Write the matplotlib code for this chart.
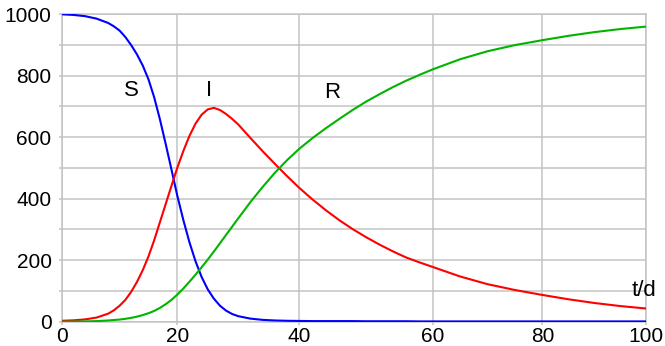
import numpy as np
from matplotlib import pyplot as plt

t = [0, 2, 4, 6, 8, 9, 10, 11, 12, 13, 14, 15, 16, 17, 18, 19, 20, 21, 22, 23,
     24, 25, 26, 27, 28, 29, 30, 32, 34, 36, 38, 40, 42, 44, 46, 48, 50, 52, 54,
     56, 58, 60, 65, 70, 75, 80, 85, 90, 95, 100]
S = [999, 997, 993, 985, 971, 960, 946, 925, 899, 869, 833, 788, 729, 657, 577,
     494, 410, 330, 258, 196, 145, 105, 75, 52, 36, 25, 18, 10, 6, 4, 3, 2.5, 2,
     2, 2, 2, 1.5, 1.5, 1.5, 1.5, 1, 1, 1, 1, 1, 1, 1, 1, 1, 1]
I = [3, 4.5, 7.5, 13.5, 26, 37, 52, 71, 97, 129, 167, 212, 265, 324, 383, 442,
     500, 555, 604, 644, 673, 690, 695, 688, 675, 659, 641, 597, 554, 513, 473,
     435, 397, 362, 330, 301, 275, 251, 229, 209, 193, 178, 147, 122, 103, 87,
     73, 61, 51, 43]
R = [0, 0.5, 1, 2, 4, 5.5, 7, 9.5, 12.5, 16.5, 21.5, 27.5, 35, 45, 57, 71, 88,
     108, 130, 153, 177, 202, 228, 255, 282, 309, 336, 389, 438, 484, 525, 562,
     597, 629, 659, 688, 715, 739, 762, 783, 802, 820, 853, 879, 899, 915, 929,
     941, 951, 959]

x_ticks = [0, 20, 40, 60, 80, 100]
# die Gitterlinien im Original sind nicht gleichmäßig verteilt
x_pos = [0, 19.75, 40.65, 63.5, 82.3, 100]
y_ticks = [0, 200, 400, 600, 800, 1000]

grid_col = "#c3c3c3"

fig = plt.figure(figsize=(6.65, 3.46), dpi=100)
ax = fig.add_axes([0.0932, 0.0702, 0.8778, 0.8893])

ax.set_xscale("function", functions=(lambda v: np.interp(v, x_ticks, x_pos),
                                     lambda v: np.interp(v, x_pos, x_ticks)))

ax.plot(t, S, color="#0000ff", lw=1.5, zorder=3)
ax.plot(t, I, color="#ff0000", lw=1.5, zorder=3)
ax.plot(t, R, color="#00b400", lw=1.5, zorder=3)

ax.set_xlim(0, 100)
ax.set_ylim(0, 1000)
ax.set_xticks(x_ticks)
ax.set_xticklabels([str(v) for v in x_ticks])
ax.set_yticks(y_ticks)
ax.set_yticks(np.arange(100, 1000, 200), minor=True)
ax.set_xticks([], minor=True)

ax.grid(True, which="both", color=grid_col, lw=1.1)
ax.set_axisbelow(True)
for sp in ax.spines.values():
    sp.set_color(grid_col)
    sp.set_linewidth(1.1)

ax.tick_params(axis="y", which="both", length=2.5, color=grid_col, width=1.1,
               pad=5, labelsize=15)
ax.tick_params(axis="x", length=2, color=grid_col, width=1.1, pad=2,
               labelsize=15)
for lab in ax.get_xticklabels() + ax.get_yticklabels():
    lab.set_family("Liberation Sans")

kw = dict(fontsize=16, family="Liberation Sans", ha="center", va="center")
ax.text(12, 750, "S", **kw)
ax.text(25.2, 752, "I", **kw)
ax.text(45, 745, "R", **kw)
ax.text(99.7, 100, "t/d", clip_on=False, **kw)

fig.savefig("out.png", dpi=100)
